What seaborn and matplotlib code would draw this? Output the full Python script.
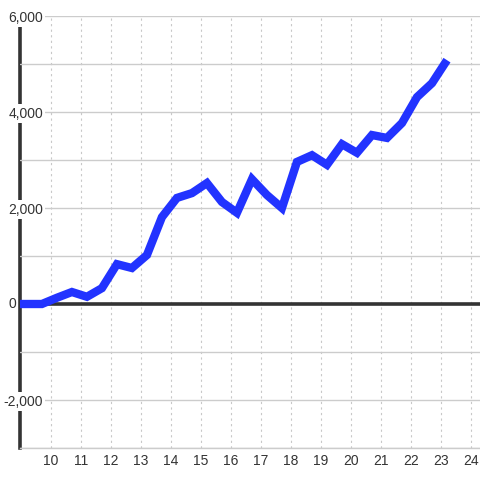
import matplotlib
matplotlib.use("Agg")
import matplotlib.pyplot as plt
import pandas as pd
import seaborn as sns
from matplotlib.ticker import MultipleLocator

# Data
x_vals = [8.7, 9.2, 9.7, 10.2, 10.7, 11.2, 11.7, 12.2, 12.7, 13.2, 13.7, 14.2,
          14.7, 15.2, 15.7, 16.2, 16.7, 17.2, 17.7, 18.2, 18.7, 19.2, 19.7,
          20.2, 20.7, 21.2, 21.7, 22.2, 22.7, 23.2]
y_vals = [0, 0, 0, 130, 250, 150, 330, 830, 750, 1020, 1810, 2210,
          2310, 2520, 2125, 1900, 2600, 2270, 2000, 2960, 3100, 2900, 3330,
          3150, 3520, 3460, 3770, 4310, 4600, 5080]
x_ticks = list(range(10, 25))
y_ticks = [-2000, 0, 2000, 4000, 6000]
y_labels = ["-2,000", "0", "2,000", "4,000", "6,000"]

df = pd.DataFrame({"x": x_vals, "y": y_vals})

sns.set_style("white")
plt.rcParams["font.family"] = ["Liberation Sans", "DejaVu Sans"]

fig = plt.figure(figsize=(4.8, 4.8), dpi=100)
ax = fig.add_axes([20 / 480, 32 / 480, 460 / 480, 432 / 480])
ax.set_axisbelow("line")

ax.axhline(0, color="#333333", lw=2.6, zorder=1.8)
sns.lineplot(data=df, x="x", y="y", ax=ax, color="#2233ff", lw=6,
             solid_joinstyle="miter", solid_capstyle="butt", zorder=3)

ax.set_xlim(8.97, 24.3)
ax.set_ylim(-3000, 6000)
ax.set_xticks(x_ticks)
# the zero label sits left of the axis, drawn separately below
ax.set_yticks(y_ticks, ["" if l == "0" else l for l in y_labels])
ax.yaxis.set_minor_locator(MultipleLocator(1000))
ax.set_xlabel("")
ax.set_ylabel("")

ax.grid(axis="y", which="both", color="#cccccc", lw=1, ls="-")
ax.grid(axis="x", which="major", color="#c8c8c8", lw=0.8, ls=(0, (2, 3)))

ax.tick_params(axis="y", which="both", length=0, pad=-16.5, labelsize=10,
               labelcolor="#333333")
ax.tick_params(axis="x", length=0, pad=4, labelsize=10, labelcolor="#333333")
for lab in ax.get_yticklabels():
    lab.set_horizontalalignment("right")
    lab.set_bbox(dict(facecolor="white", edgecolor="none", pad=1.5))

ax.text(-0.009, 0, "0", transform=ax.get_yaxis_transform(), ha="right",
        va="center", fontsize=10, color="#333333", clip_on=False)

for s in ["top", "right"]:
    ax.spines[s].set_visible(False)
ax.spines["left"].set_color("#333333")
ax.spines["left"].set_linewidth(2.6)
ax.spines["left"].set_zorder(1.0)
ax.spines["bottom"].set_color("#cccccc")
ax.spines["bottom"].set_linewidth(1)

fig.savefig("out.png", dpi=100)
